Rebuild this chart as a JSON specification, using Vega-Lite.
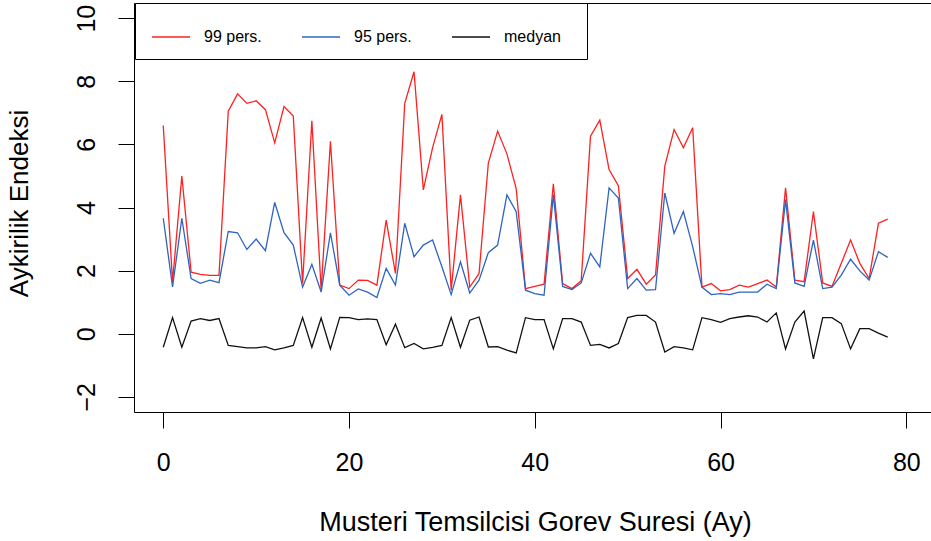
{
  "$schema": "https://vega.github.io/schema/vega-lite/v6.json",
  "width": 797,
  "height": 409,
  "autosize": {"type": "none"},
  "padding": {"left": 134, "top": 3, "right": 0, "bottom": 129},
  "background": "white",
  "config": {
    "view": {"stroke": null},
    "font": "Liberation Sans",
    "axis": {"domainColor": "black", "tickColor": "black", "labelColor": "black", "titleColor": "black", "grid": false, "titleFontWeight": "normal", "domainWidth": 1, "tickWidth": 1},
    "legend": {
      "orient": "none", "legendX": 1, "legendY": 0, "direction": "horizontal",
      "symbolType": "stroke", "symbolSize": 1444, "symbolStrokeWidth": 1.3, "symbolOffset": 2,
      "labelFontSize": 16, "labelOffset": 13, "columnPadding": 37, "padding": 14,
      "strokeColor": "black", "fillColor": "white", "labelColor": "black"
    }
  },
  "data": {"values": [
{"x":0,"s":"99 pers.","v":6.6},{"x":1,"s":"99 pers.","v":1.65},{"x":2,"s":"99 pers.","v":5.0},{"x":3,"s":"99 pers.","v":1.95},{"x":4,"s":"99 pers.","v":1.88},{"x":5,"s":"99 pers.","v":1.85},{"x":6,"s":"99 pers.","v":1.85},{"x":7,"s":"99 pers.","v":7.05},{"x":8,"s":"99 pers.","v":7.6},{"x":9,"s":"99 pers.","v":7.3},
{"x":10,"s":"99 pers.","v":7.38},{"x":11,"s":"99 pers.","v":7.1},{"x":12,"s":"99 pers.","v":6.05},{"x":13,"s":"99 pers.","v":7.2},{"x":14,"s":"99 pers.","v":6.9},{"x":15,"s":"99 pers.","v":1.6},{"x":16,"s":"99 pers.","v":6.75},{"x":17,"s":"99 pers.","v":1.38},{"x":18,"s":"99 pers.","v":6.1},{"x":19,"s":"99 pers.","v":1.54},
{"x":20,"s":"99 pers.","v":1.43},{"x":21,"s":"99 pers.","v":1.7},{"x":22,"s":"99 pers.","v":1.69},{"x":23,"s":"99 pers.","v":1.54},{"x":24,"s":"99 pers.","v":3.6},{"x":25,"s":"99 pers.","v":1.91},{"x":26,"s":"99 pers.","v":7.3},{"x":27,"s":"99 pers.","v":8.3},{"x":28,"s":"99 pers.","v":4.56},{"x":29,"s":"99 pers.","v":5.9},
{"x":30,"s":"99 pers.","v":6.95},{"x":31,"s":"99 pers.","v":1.38},{"x":32,"s":"99 pers.","v":4.4},{"x":33,"s":"99 pers.","v":1.48},{"x":34,"s":"99 pers.","v":1.91},{"x":35,"s":"99 pers.","v":5.41},{"x":36,"s":"99 pers.","v":6.42},{"x":37,"s":"99 pers.","v":5.7},{"x":38,"s":"99 pers.","v":4.6},{"x":39,"s":"99 pers.","v":1.43},
{"x":40,"s":"99 pers.","v":1.5},{"x":41,"s":"99 pers.","v":1.57},{"x":42,"s":"99 pers.","v":4.75},{"x":43,"s":"99 pers.","v":1.59},{"x":44,"s":"99 pers.","v":1.43},{"x":45,"s":"99 pers.","v":1.68},{"x":46,"s":"99 pers.","v":6.26},{"x":47,"s":"99 pers.","v":6.77},{"x":48,"s":"99 pers.","v":5.2},{"x":49,"s":"99 pers.","v":4.69},
{"x":50,"s":"99 pers.","v":1.75},{"x":51,"s":"99 pers.","v":2.04},{"x":52,"s":"99 pers.","v":1.57},{"x":53,"s":"99 pers.","v":1.86},{"x":54,"s":"99 pers.","v":5.31},{"x":55,"s":"99 pers.","v":6.47},{"x":56,"s":"99 pers.","v":5.89},{"x":57,"s":"99 pers.","v":6.53},{"x":58,"s":"99 pers.","v":1.48},{"x":59,"s":"99 pers.","v":1.59},
{"x":60,"s":"99 pers.","v":1.36},{"x":61,"s":"99 pers.","v":1.4},{"x":62,"s":"99 pers.","v":1.54},{"x":63,"s":"99 pers.","v":1.48},{"x":64,"s":"99 pers.","v":1.59},{"x":65,"s":"99 pers.","v":1.7},{"x":66,"s":"99 pers.","v":1.48},{"x":67,"s":"99 pers.","v":4.62},{"x":68,"s":"99 pers.","v":1.7},{"x":69,"s":"99 pers.","v":1.65},
{"x":70,"s":"99 pers.","v":3.87},{"x":71,"s":"99 pers.","v":1.61},{"x":72,"s":"99 pers.","v":1.5},{"x":73,"s":"99 pers.","v":2.23},{"x":74,"s":"99 pers.","v":2.97},{"x":75,"s":"99 pers.","v":2.23},{"x":76,"s":"99 pers.","v":1.75},{"x":77,"s":"99 pers.","v":3.5},{"x":78,"s":"99 pers.","v":3.63},
{"x":0,"s":"95 pers.","v":3.66},{"x":1,"s":"95 pers.","v":1.48},{"x":2,"s":"95 pers.","v":3.66},{"x":3,"s":"95 pers.","v":1.75},{"x":4,"s":"95 pers.","v":1.6},{"x":5,"s":"95 pers.","v":1.7},{"x":6,"s":"95 pers.","v":1.62},{"x":7,"s":"95 pers.","v":3.24},{"x":8,"s":"95 pers.","v":3.2},{"x":9,"s":"95 pers.","v":2.67},
{"x":10,"s":"95 pers.","v":3.0},{"x":11,"s":"95 pers.","v":2.63},{"x":12,"s":"95 pers.","v":4.16},{"x":13,"s":"95 pers.","v":3.2},{"x":14,"s":"95 pers.","v":2.81},{"x":15,"s":"95 pers.","v":1.48},{"x":16,"s":"95 pers.","v":2.2},{"x":17,"s":"95 pers.","v":1.32},{"x":18,"s":"95 pers.","v":3.2},{"x":19,"s":"95 pers.","v":1.54},
{"x":20,"s":"95 pers.","v":1.22},{"x":21,"s":"95 pers.","v":1.42},{"x":22,"s":"95 pers.","v":1.32},{"x":23,"s":"95 pers.","v":1.15},{"x":24,"s":"95 pers.","v":2.07},{"x":25,"s":"95 pers.","v":1.54},{"x":26,"s":"95 pers.","v":3.5},{"x":27,"s":"95 pers.","v":2.44},{"x":28,"s":"95 pers.","v":2.81},{"x":29,"s":"95 pers.","v":2.97},
{"x":30,"s":"95 pers.","v":2.12},{"x":31,"s":"95 pers.","v":1.24},{"x":32,"s":"95 pers.","v":2.28},{"x":33,"s":"95 pers.","v":1.29},{"x":34,"s":"95 pers.","v":1.7},{"x":35,"s":"95 pers.","v":2.57},{"x":36,"s":"95 pers.","v":2.81},{"x":37,"s":"95 pers.","v":4.4},{"x":38,"s":"95 pers.","v":3.87},{"x":39,"s":"95 pers.","v":1.38},
{"x":40,"s":"95 pers.","v":1.27},{"x":41,"s":"95 pers.","v":1.22},{"x":42,"s":"95 pers.","v":4.4},{"x":43,"s":"95 pers.","v":1.5},{"x":44,"s":"95 pers.","v":1.4},{"x":45,"s":"95 pers.","v":1.61},{"x":46,"s":"95 pers.","v":2.55},{"x":47,"s":"95 pers.","v":2.12},{"x":48,"s":"95 pers.","v":4.62},{"x":49,"s":"95 pers.","v":4.3},
{"x":50,"s":"95 pers.","v":1.43},{"x":51,"s":"95 pers.","v":1.75},{"x":52,"s":"95 pers.","v":1.38},{"x":53,"s":"95 pers.","v":1.4},{"x":54,"s":"95 pers.","v":4.46},{"x":55,"s":"95 pers.","v":3.18},{"x":56,"s":"95 pers.","v":3.87},{"x":57,"s":"95 pers.","v":2.76},{"x":58,"s":"95 pers.","v":1.48},{"x":59,"s":"95 pers.","v":1.24},
{"x":60,"s":"95 pers.","v":1.27},{"x":61,"s":"95 pers.","v":1.24},{"x":62,"s":"95 pers.","v":1.32},{"x":63,"s":"95 pers.","v":1.32},{"x":64,"s":"95 pers.","v":1.32},{"x":65,"s":"95 pers.","v":1.57},{"x":66,"s":"95 pers.","v":1.43},{"x":67,"s":"95 pers.","v":4.25},{"x":68,"s":"95 pers.","v":1.61},{"x":69,"s":"95 pers.","v":1.5},
{"x":70,"s":"95 pers.","v":2.97},{"x":71,"s":"95 pers.","v":1.43},{"x":72,"s":"95 pers.","v":1.48},{"x":73,"s":"95 pers.","v":1.86},{"x":74,"s":"95 pers.","v":2.36},{"x":75,"s":"95 pers.","v":1.99},{"x":76,"s":"95 pers.","v":1.7},{"x":77,"s":"95 pers.","v":2.6},{"x":78,"s":"95 pers.","v":2.42},
{"x":0,"s":"medyan","v":-0.43},{"x":1,"s":"medyan","v":0.51},{"x":2,"s":"medyan","v":-0.43},{"x":3,"s":"medyan","v":0.4},{"x":4,"s":"medyan","v":0.48},{"x":5,"s":"medyan","v":0.42},{"x":6,"s":"medyan","v":0.48},{"x":7,"s":"medyan","v":-0.37},{"x":8,"s":"medyan","v":-0.41},{"x":9,"s":"medyan","v":-0.45},
{"x":10,"s":"medyan","v":-0.45},{"x":11,"s":"medyan","v":-0.41},{"x":12,"s":"medyan","v":-0.51},{"x":13,"s":"medyan","v":-0.45},{"x":14,"s":"medyan","v":-0.37},{"x":15,"s":"medyan","v":0.51},{"x":16,"s":"medyan","v":-0.43},{"x":17,"s":"medyan","v":0.5},{"x":18,"s":"medyan","v":-0.48},{"x":19,"s":"medyan","v":0.52},
{"x":20,"s":"medyan","v":0.51},{"x":21,"s":"medyan","v":0.45},{"x":22,"s":"medyan","v":0.47},{"x":23,"s":"medyan","v":0.45},{"x":24,"s":"medyan","v":-0.35},{"x":25,"s":"medyan","v":0.3},{"x":26,"s":"medyan","v":-0.44},{"x":27,"s":"medyan","v":-0.31},{"x":28,"s":"medyan","v":-0.48},{"x":29,"s":"medyan","v":-0.43},
{"x":30,"s":"medyan","v":-0.37},{"x":31,"s":"medyan","v":0.51},{"x":32,"s":"medyan","v":-0.43},{"x":33,"s":"medyan","v":0.43},{"x":34,"s":"medyan","v":0.53},{"x":35,"s":"medyan","v":-0.42},{"x":36,"s":"medyan","v":-0.41},{"x":37,"s":"medyan","v":-0.52},{"x":38,"s":"medyan","v":-0.61},{"x":39,"s":"medyan","v":0.51},
{"x":40,"s":"medyan","v":0.45},{"x":41,"s":"medyan","v":0.45},{"x":42,"s":"medyan","v":-0.48},{"x":43,"s":"medyan","v":0.48},{"x":44,"s":"medyan","v":0.48},{"x":45,"s":"medyan","v":0.37},{"x":46,"s":"medyan","v":-0.37},{"x":47,"s":"medyan","v":-0.34},{"x":48,"s":"medyan","v":-0.45},{"x":49,"s":"medyan","v":-0.31},
{"x":50,"s":"medyan","v":0.51},{"x":51,"s":"medyan","v":0.58},{"x":52,"s":"medyan","v":0.58},{"x":53,"s":"medyan","v":0.37},{"x":54,"s":"medyan","v":-0.58},{"x":55,"s":"medyan","v":-0.41},{"x":56,"s":"medyan","v":-0.45},{"x":57,"s":"medyan","v":-0.51},{"x":58,"s":"medyan","v":0.51},{"x":59,"s":"medyan","v":0.45},
{"x":60,"s":"medyan","v":0.36},{"x":61,"s":"medyan","v":0.48},{"x":62,"s":"medyan","v":0.53},{"x":63,"s":"medyan","v":0.57},{"x":64,"s":"medyan","v":0.53},{"x":65,"s":"medyan","v":0.37},{"x":66,"s":"medyan","v":0.66},{"x":67,"s":"medyan","v":-0.48},{"x":68,"s":"medyan","v":0.37},{"x":69,"s":"medyan","v":0.72},
{"x":70,"s":"medyan","v":-0.8},{"x":71,"s":"medyan","v":0.51},{"x":72,"s":"medyan","v":0.51},{"x":73,"s":"medyan","v":0.32},{"x":74,"s":"medyan","v":-0.48},{"x":75,"s":"medyan","v":0.16},{"x":76,"s":"medyan","v":0.16},{"x":77,"s":"medyan","v":0.02},{"x":78,"s":"medyan","v":-0.11}
  ]},
  "layer": [
    {
      "mark": {"type": "line", "strokeWidth": 1.3, "interpolate": "linear"},
      "encoding": {
        "x": {"field": "x", "type": "quantitative",
          "scale": {"domain": [-3.15, 82.66], "nice": false, "zero": false},
          "axis": {"orient": "bottom", "values": [0, 20, 40, 60, 80], "tickSize": 16, "labelFontSize": 25, "labelPadding": 22, "labelFlush": false,
            "title": "Musteri Temsilcisi Gorev Suresi (Ay)", "titleFontSize": 27, "titleBaseline": "alphabetic", "titleY": 118, "titleX": 401}},
        "y": {"field": "v", "type": "quantitative",
          "scale": {"domain": [-2.48, 10.48], "nice": false, "zero": false},
          "axis": {"values": [-2, 0, 2, 4, 6, 8, 10], "tickSize": 16, "labelFontSize": 25, "labelAngle": -90, "labelAlign": "center", "labelBaseline": "alphabetic", "labelPadding": 24, "labelFlush": false,
            "title": "Aykirilik Endeksi", "titleFontSize": 26, "titleAngle": -90, "titleAlign": "center", "titleBaseline": "alphabetic", "titleX": -107, "titleY": 200}},
        "color": {"field": "s", "type": "nominal",
          "scale": {"domain": ["99 pers.", "95 pers.", "medyan"], "range": ["#ff2020", "#2f64c0", "#111111"]},
          "legend": {"title": null, "labelExpr": "datum.label == 'medyan' ? 'medyan\u2800' : datum.label"}},
        "detail": {"field": "s"}
      }
    },
    {
      "mark": {"type": "rule", "opacity": 0},
      "encoding": {
        "x": {"field": "x", "type": "quantitative",
          "axis": {"orient": "top", "labels": false, "ticks": false, "domain": true, "title": null}}
      }
    }
  ],
  "resolve": {"axis": {"x": "independent"}}
}
